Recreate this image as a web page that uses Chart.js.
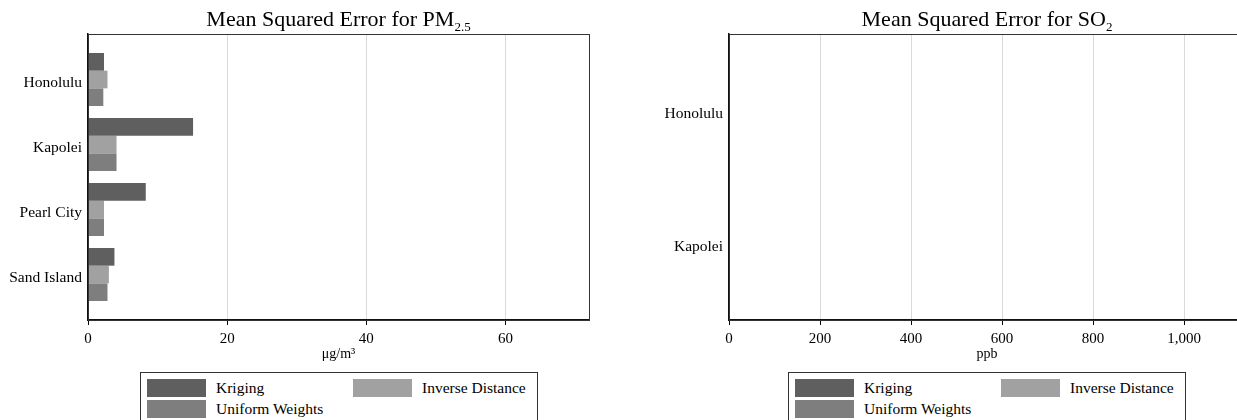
<!DOCTYPE html>
<html>
<head>
<meta charset="utf-8">
<script src="https://cdn.jsdelivr.net/npm/chart.js@4/dist/chart.umd.min.js"></script>
<style>
  html, body { margin: 0; padding: 0; background: #fff; }
  body { width: 1237px; height: 420px; overflow: hidden; position: relative;
         font-family: "Liberation Serif", "DejaVu Serif", serif; color: #000; }
  canvas { position: absolute; top: 0; }
  .title { position: absolute; top: 6px; text-align: center; font-size: 22px; line-height: 26px; white-space: nowrap; }
  .title sub { font-size: 13px; vertical-align: -5px; line-height: 0; }
  .legend { position: absolute; top: 372px; width: 398px; height: 52px; border: 1px solid #333; box-sizing: border-box; }
  .legend .item { position: absolute; height: 18px; font-size: 15.5px; line-height: 18px; white-space: nowrap; }
  .legend .sw { position: absolute; left: 0; top: 0; width: 59px; height: 18px; }
  .legend .lbl { position: absolute; left: 69px; top: 0; }
</style>
</head>
<body>
<canvas id="pmChart" width="600" height="370" style="left:0"></canvas>
<canvas id="so2Chart" width="626" height="370" style="left:620px"></canvas>
<div class="title" style="left:88px;width:501px">Mean Squared Error for PM<sub>2.5</sub></div>
<div class="title" style="left:729px;width:516px">Mean Squared Error for SO<sub>2</sub></div>
<div class="legend" id="pmLegend" style="left:140px"></div>
<div class="legend" id="so2Legend" style="left:788px"></div>

<script>
// series names and colours
const methods = ['Kriging', 'Inverse Distance', 'Uniform Weights'];
const methodColors = ['#5f5f5f', '#a1a1a1', '#7e7e7e'];

// PM2.5 panel
const pmSites = ['Honolulu', 'Kapolei', 'Pearl City', 'Sand Island'];
const pmKriging = [2.3, 15.1, 8.3, 3.8];
const pmInverse = [2.8, 4.1, 2.3, 3.0];
const pmUniform = [2.2, 4.1, 2.3, 2.8];
const pmTicks = [0, 20, 40, 60];

// SO2 panel (values are too small to show at this scale)
const so2Sites = ['Honolulu', 'Kapolei'];
const so2Kriging = [0.5, 0.8];
const so2Inverse = [0.4, 0.7];
const so2Uniform = [0.4, 0.7];
const so2Ticks = [0, 200, 400, 600, 800, 1000];

Chart.defaults.font.family = '"Liberation Serif", "DejaVu Serif", serif';
Chart.defaults.color = '#000';

const framePlugin = {
    id: 'frame',
    afterDraw(chart) {
        const { ctx, chartArea: a } = chart;
        ctx.save();
        ctx.strokeStyle = '#333';
        ctx.lineWidth = 1;
        ctx.strokeRect(a.left + 0.5, a.top + 0.5, a.right - a.left, a.bottom - a.top);
        ctx.restore();
    }
};

// leave a little room above the first and below the last group
function padCategories(frac) {
    return function (scale) {
        scale._startValue -= frac;
        scale._valueRange += 2 * frac;
    };
}

function makeChart(id, sites, series, ticks, max, axisTitle, yWidth, padRight, catPad) {
    const ctx = document.getElementById(id).getContext('2d');
    return new Chart(ctx, {
        type: 'bar',
        data: {
            labels: sites,
            datasets: series.map((vals, i) => ({
                label: methods[i],
                data: vals,
                backgroundColor: methodColors[i],
                borderWidth: 0,
                categoryPercentage: 0.815,
                barPercentage: 1.0
            }))
        },
        options: {
            indexAxis: 'y',
            responsive: false,
            animation: false,
            layout: { padding: { top: 34, right: padRight, left: 0, bottom: 7 } },
            plugins: {
                legend: { display: false },
                title: { display: false },
                tooltip: { enabled: false }
            },
            scales: {
                x: {
                    min: 0,
                    max: max,
                    afterFit: s => { s.height = 43; },
                    afterBuildTicks: s => { s.ticks = ticks.map(v => ({ value: v })); },
                    grid: {
                        color: c => (c.tick && c.tick.value === 0) ? 'rgba(0,0,0,0)' : '#d9d9d9',
                        tickColor: '#000',
                        tickLength: 5,
                        lineWidth: 1
                    },
                    border: { color: '#111', width: 1.5 },
                    ticks: { font: { size: 15 }, padding: 5, maxRotation: 0 },
                    title: {
                        display: true,
                        text: axisTitle,
                        font: { size: 14 },
                        padding: { top: -2, bottom: 0 }
                    }
                },
                y: {
                    afterFit: s => { s.width = yWidth; },
                    afterBuildTicks: padCategories(catPad),
                    grid: { display: false, drawTicks: false },
                    border: { display: true, color: '#111', width: 1.5 },
                    ticks: { font: { size: 15.5 }, padding: 6, labelOffset: 3 }
                }
            }
        },
        plugins: [framePlugin]
    });
}

makeChart('pmChart', pmSites, [pmKriging, pmInverse, pmUniform], pmTicks, 72, 'μg/m³', 88, 11, 0.2);
makeChart('so2Chart', so2Sites, [so2Kriging, so2Inverse, so2Uniform], so2Ticks, 1134, 'ppb', 109, 1, 0.075);

// legends: two columns, filled row by row
function buildLegend(id) {
    const box = document.getElementById(id);
    methods.forEach((name, i) => {
        const item = document.createElement('div');
        item.className = 'item';
        item.style.left = (i % 2 === 0 ? 6 : 212) + 'px';
        item.style.top = (Math.floor(i / 2) === 0 ? 6 : 27) + 'px';
        item.innerHTML = '<div class="sw" style="background:' + methodColors[i] + '"></div><div class="lbl">' + name + '</div>';
        box.appendChild(item);
    });
}
buildLegend('pmLegend');
buildLegend('so2Legend');
</script>
</body>
</html>
